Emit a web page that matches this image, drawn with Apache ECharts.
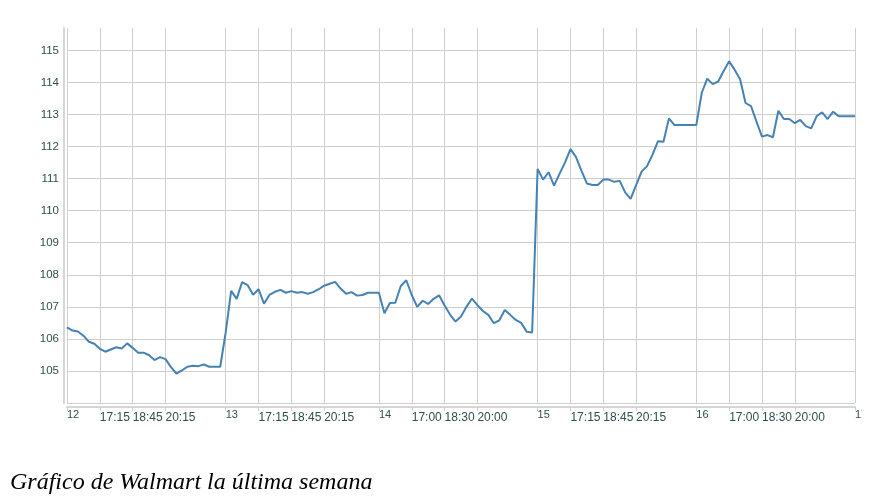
<!DOCTYPE html>
<html>
<head>
<meta charset="utf-8">
<script src="https://cdn.jsdelivr.net/npm/echarts@6/dist/echarts.min.js"></script>
<style>
html,body{margin:0;padding:0;background:#fff;}
#chart{width:862px;height:501px;}
</style>
</head>
<body>
<div id="chart"></div>
<script>
// Days shown, start time of the first slot of each day, number of 15-min slots per day
const days = ['12', '13', '14', '15', '16'];
const dayStart = ['15:45', '15:45', '15:30', '15:45', '15:30'];
const daySlots = [29, 28, 29, 29, 29];
const endLabel = '17';
const tickSlots = [0, 6, 12, 18];   // slots within a day that get a tick/label
const titleText = 'Gráfico de Walmart la última semana';

const day12 = [106.36,106.26,106.23,106.1,105.91,105.85,105.69,105.6,105.67,105.74,105.7,105.86,105.72,105.57,105.57,105.49,105.34,105.43,105.37,105.12,104.92,105.02,105.13,105.16,105.15,105.2,105.13,105.13,105.13];
const day13 = [106.2,107.5,107.25,107.77,107.68,107.38,107.55,107.1,107.37,107.47,107.53,107.44,107.49,107.44,107.46,107.41,107.46,107.55,107.66,107.72,107.78,107.57,107.41,107.46,107.35,107.37,107.44,107.44];
const day14 = [107.44,106.8,107.12,107.13,107.65,107.83,107.37,107.0,107.19,107.09,107.25,107.36,107.04,106.76,106.54,106.7,107.0,107.26,107.05,106.87,106.75,106.49,106.58,106.9,106.75,106.59,106.5,106.22,106.2];
const day15 = [111.3,110.97,111.2,110.78,111.15,111.5,111.92,111.68,111.25,110.85,110.8,110.8,110.97,110.97,110.9,110.93,110.57,110.37,110.8,111.22,111.39,111.75,112.17,112.15,112.88,112.67,112.67,112.67,112.67];
const day16 = [112.67,113.68,114.12,113.95,114.03,114.36,114.66,114.4,114.1,113.36,113.26,112.78,112.31,112.36,112.29,113.12,112.86,112.86,112.73,112.83,112.64,112.57,112.95,113.07,112.86,113.09,112.95,112.95,112.95];
const lastValue = [112.95];

const prices = [].concat(day12, day13, day14, day15, day16, lastValue);

// build categories
const categories = [];
const isTick = [];
const labelText = [];
function fmt(min){const h=Math.floor(min/60),m=min%60;return h+':'+(m<10?'0':'')+m;}
days.forEach(function(d, di){
  const p = dayStart[di].split(':');
  const startMin = (+p[0])*60 + (+p[1]);
  for (let s = 0; s < daySlots[di]; s++) {
    const t = fmt(startMin + 15*s);
    categories.push(d + ' ' + t);
    const tk = tickSlots.indexOf(s) >= 0;
    isTick.push(tk);
    labelText.push(s === 0 ? '{d|' + d + '}' : (tk ? '{t|' + t + '}' : ''));
  }
});
categories.push(endLabel);
isTick.push(true);
labelText.push('{d|' + endLabel + '}');

const labelColor = '#2F4F4F';
const gridColor = '#cfcfcf';

const chart = echarts.init(document.getElementById('chart'), null, {renderer: 'canvas'});
chart.setOption({
  animation: false,
  backgroundColor: '#ffffff',
  title: {
    text: titleText,
    left: 5,
    top: 466,
    textStyle: {
      fontFamily: 'Liberation Serif',
      fontStyle: 'italic',
      fontWeight: 'normal',
      fontSize: 24,
      color: '#000'
    }
  },
  grid: {left: 67, right: 7, top: 28, bottom: 98, containLabel: false, outerBoundsMode: 'none'},
  xAxis: {
    type: 'category',
    data: categories,
    boundaryGap: false,
    offset: 4,
    axisLine: {show: true, lineStyle: {color: '#d6d6d6', width: 2}},
    axisTick: {show: true, length: 4, interval: function(i){return isTick[i];}, lineStyle: {color: gridColor}},
    splitLine: {show: true, interval: function(i){return isTick[i];}, lineStyle: {color: gridColor, width: 1}},
    axisLabel: {
      interval: function(i){return isTick[i];},
      formatter: function(v, i){return labelText[i];},
      align: 'left',
      margin: 2,
      hideOverlap: false,
      color: labelColor,
      fontFamily: 'Liberation Sans',
      rich: {
        d: {fontSize: 11, lineHeight: 12, color: labelColor, fontFamily: 'Liberation Sans'},
        t: {fontSize: 12, lineHeight: 12, color: labelColor, fontFamily: 'Liberation Sans', padding: [6, 0, 0, 0]}
      }
    }
  },
  yAxis: {
    type: 'value',
    min: 104,
    max: 115.7,
    interval: 1,
    offset: 3,
    axisLine: {show: true, lineStyle: {color: '#d6d6d6', width: 2}},
    axisTick: {show: false},
    splitLine: {show: true, showMaxLine: false, lineStyle: {color: gridColor, width: 1}},
    axisLabel: {
      showMinLabel: false,
      showMaxLabel: false,
      margin: 5,
      color: labelColor,
      fontSize: 11.5,
      fontFamily: 'Liberation Sans'
    }
  },
  series: [{
    type: 'line',
    data: prices,
    showSymbol: false,
    symbol: 'none',
    smooth: false,
    lineStyle: {color: '#4682B4', width: 2},
    itemStyle: {color: '#4682B4'}
  }]
});
</script>
</body>
</html>
